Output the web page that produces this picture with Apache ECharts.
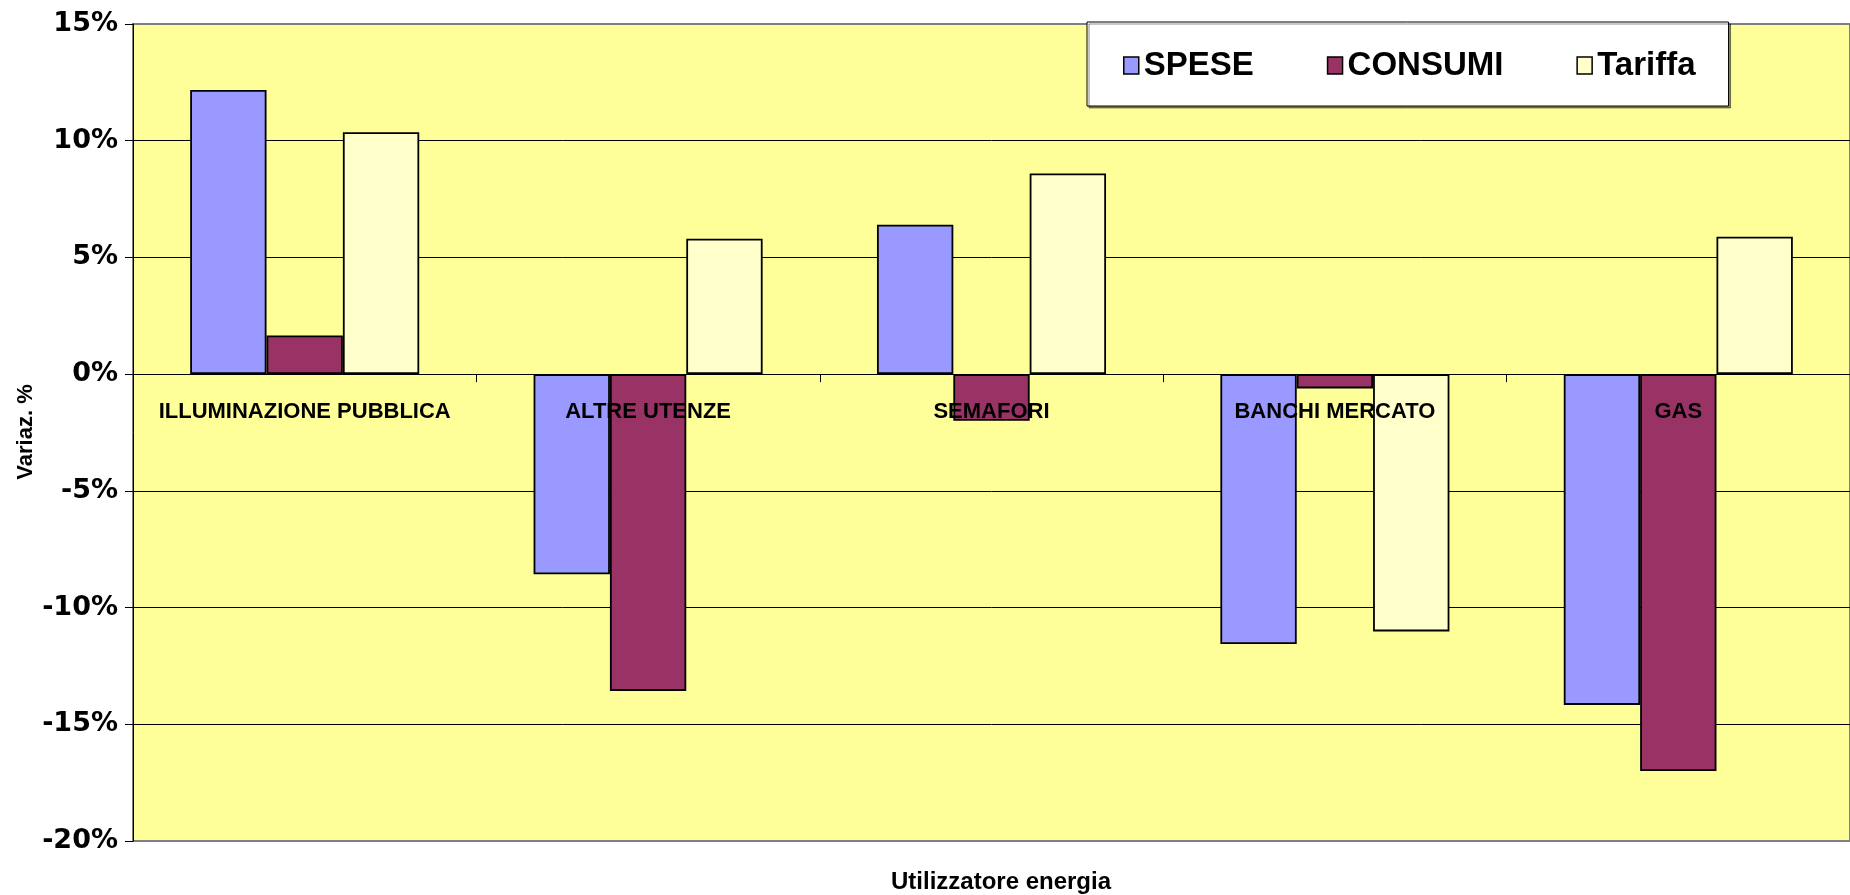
<!DOCTYPE html>
<html>
<head>
<meta charset="utf-8">
<script src="https://cdn.jsdelivr.net/npm/echarts@6/dist/echarts.min.js"></script>
<style>
html,body{margin:0;padding:0;background:#fff;}
#chart{width:1850px;height:895px;}
</style>
</head>
<body>
<div id="chart"></div>
<script>
const categories = ['ILLUMINAZIONE PUBBLICA', 'ALTRE UTENZE', 'SEMAFORI', 'BANCHI MERCATO', 'GAS'];
const seriesNames = ['SPESE', 'CONSUMI', 'Tariffa'];
const spese = [12.17, -8.57, 6.4, -11.56, -14.17];
const consumi = [1.66, -13.57, -2.0, -0.61, -17.0];
const tariffa = [10.36, 5.8, 8.6, -11.02, 5.89];
const yTicks = { min: -20, max: 15, interval: 5 };
const colors = ['#9999FF', '#993366', '#FFFFCC'];
const yTitle = 'Variaz. %';
const xTitle = 'Utilizzatore energia';

const FONT = "'Liberation Sans', Arial, Helvetica, sans-serif";
const WIDE = "'DejaVu Sans', Verdana, sans-serif";
const chart = echarts.init(document.getElementById('chart'), null, { renderer: 'canvas' });

const values = [spese, consumi, tariffa];
const series = seriesNames.map((name, i) => ({
  name: name,
  type: 'bar',
  data: values[i],
  barGap: '0%',
  barCategoryGap: '33.3%',
  itemStyle: { color: colors[i], borderColor: '#000', borderWidth: 1.8 },
  emphasis: { disabled: true }
}));

const GRID_TOP = 24, GRID_BOTTOM = 54, H = 895;
// pixel offset from the top edge to the zero line, derived from the axis range
const zeroOffset = (H - GRID_TOP - GRID_BOTTOM) * (yTicks.max / (yTicks.max - yTicks.min));

chart.setOption({
  animation: false,
  backgroundColor: '#fff',
  grid: {
    left: 133, right: -22, top: GRID_TOP, bottom: GRID_BOTTOM,
    show: true, backgroundColor: '#FFFF99', borderColor: '#808080', borderWidth: 2
  },
  legend: {
    data: seriesNames,
    left: 1087, top: 22,
    itemGap: 73,
    icon: 'rect',
    itemWidth: 15, itemHeight: 17,
    padding: [27, 33, 24, 36],
    backgroundColor: '#fff',
    borderColor: '#000', borderWidth: 1,
    shadowColor: 'rgba(0,0,0,0.45)', shadowOffsetX: 2, shadowOffsetY: 2, shadowBlur: 0,
    itemStyle: { borderColor: '#000', borderWidth: 1.5 },
    textStyle: { fontFamily: FONT, fontWeight: 'bold', fontSize: 33, color: '#000' },
    selectedMode: false
  },
  xAxis: [{
    type: 'category',
    data: categories,
    z: 10,
    axisLine: { onZero: true, lineStyle: { color: '#000', width: 1 } },
    axisTick: { show: true, inside: false, length: 8, alignWithLabel: false, lineStyle: { color: '#000' } },
    axisLabel: { show: false },
    splitLine: { show: false }
  }, {
    type: 'category',
    data: categories,
    position: 'top',
    offset: -zeroOffset,
    z: 10,
    axisLine: { show: false, onZero: false },
    axisTick: { show: false },
    axisLabel: { inside: true, interval: 0, margin: 27, fontFamily: FONT, fontWeight: 'bold', fontSize: 22, color: '#000' },
    splitLine: { show: false }
  }],
  yAxis: {
    type: 'value',
    min: yTicks.min, max: yTicks.max, interval: yTicks.interval,
    axisLine: { show: true, lineStyle: { color: '#000', width: 1 } },
    axisTick: { show: true, inside: false, length: 8, lineStyle: { color: '#000' } },
    axisLabel: { margin: 15, formatter: v => v + '%', fontFamily: WIDE, fontWeight: 'bold', fontSize: 27, color: '#000' },
    splitLine: { show: true, showMinLine: false, showMaxLine: false, lineStyle: { color: '#000', width: 1 } }
  },
  graphic: [
    { type: 'text', x: 26, y: 432, rotation: Math.PI / 2,
      style: { text: yTitle, textAlign: 'center', textVerticalAlign: 'middle', font: 'bold 22px ' + FONT, fill: '#000' } },
    { type: 'text', x: 1001, y: 882,
      style: { text: xTitle, textAlign: 'center', textVerticalAlign: 'middle', font: 'bold 24px ' + FONT, fill: '#000' } }
  ],
  series: series
});
</script>
</body>
</html>
